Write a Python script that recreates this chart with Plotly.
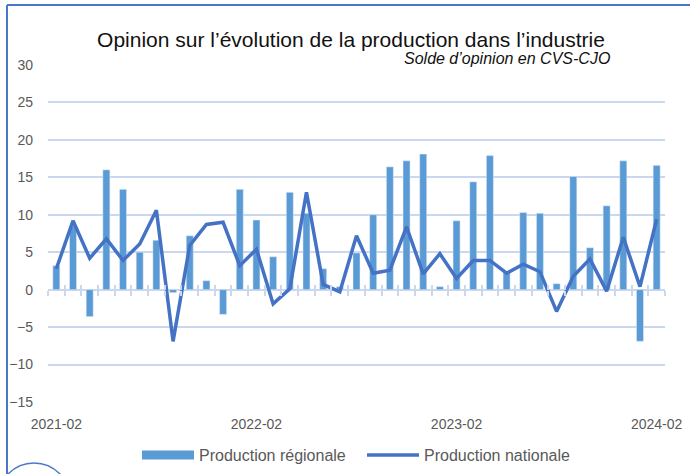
import plotly.graph_objects as go

months = [f"{2021 + (1 + i) // 12}-{(1 + i) % 12 + 1:02d}" for i in range(37)]
regional = [3.2, 8.5, -3.6, 16.0, 13.4, 5.0, 6.6, -0.4, 7.2, 1.2, -3.3, 13.4, 9.3,
            4.4, 13.0, 10.2, 2.8, 0.4, 4.9, 10.0, 16.4, 17.2, 18.1, 0.4, 9.2,
            14.4, 17.9, 2.4, 10.3, 10.2, 0.8, 15.1, 5.6, 11.2, 17.2, -6.9, 16.6]
national = [2.8, 9.2, 4.2, 6.8, 3.9, 6.1, 10.6, -6.9, 5.9, 8.7, 9.0, 3.2, 5.4,
            -1.9, 0.1, 13.0, 0.7, -0.3, 7.2, 2.2, 2.6, 8.4, 2.1, 4.8, 1.5,
            3.9, 3.9, 2.2, 3.4, 2.4, -2.9, 1.8, 4.1, -0.2, 7.0, 0.4, 9.4]
tick_labels = ["2021-02", "2022-02", "2023-02", "2024-02"]
tick_pos = [0, 12, 24, 36]

W, H = 690, 474
L, R, T, B = 48, 25, 65, 72
PW, PH = W - L - R, H - T - B

def px(x):
    return (x - L) / PW

def py(y):
    return (H - B - y) / PH

BAR_C = "#5b9bd5"
LINE_C = "#4472c4"
GRID_C = "#c9d7ef"
TXT_C = "#595959"

xs = list(range(len(months)))

fig = go.Figure()
fig.add_trace(go.Bar(x=xs, y=regional, marker_color=BAR_C, width=0.42,
                     name="Production régionale", showlegend=False, hovertext=months))
fig.add_trace(go.Scatter(x=xs, y=national, mode="lines", line=dict(color=LINE_C, width=3.5),
                         name="Production nationale", showlegend=False, hovertext=months))
# legend proxies
fig.add_trace(go.Scatter(x=[None], y=[None], mode="lines", line=dict(color=BAR_C, width=9),
                         name="Production régionale"))
fig.add_trace(go.Scatter(x=[None], y=[None], mode="lines", line=dict(color=LINE_C, width=3.5),
                         name="Production nationale"))
# carriers for the zero-line tick axes
fig.add_trace(go.Scatter(x=[None], y=[None], xaxis="x2", showlegend=False, hoverinfo="skip"))
fig.add_trace(go.Scatter(x=[None], y=[None], xaxis="x3", showlegend=False, hoverinfo="skip"))

bounds = [i - 0.5 for i in range(len(months) + 1)]
zero_pos = (0 - (-15)) / 45

fig.update_layout(
    width=W, height=H,
    margin=dict(l=L, r=R, t=T, b=B, autoexpand=False),
    paper_bgcolor="white", plot_bgcolor="white",
    font=dict(family="Liberation Sans, Arial, sans-serif", color=TXT_C, size=14),
    title=dict(text="Opinion sur l’évolution de la production dans l’industrie",
               x=351 / W, xanchor="center", y=1 - 40 / H, yanchor="middle",
               font=dict(size=21, color="#111111")),
    xaxis=dict(range=[-0.5, 36.5], tickvals=tick_pos, ticktext=tick_labels, automargin=False,
               showgrid=False, zeroline=False, showline=False, ticks="",
               ticklabelstandoff=12, tickfont=dict(size=14, color=TXT_C)),
    xaxis2=dict(overlaying="x", anchor="free", position=zero_pos, range=[-0.5, 36.5],
                tickvals=bounds, ticks="outside", ticklen=5, tickwidth=1.5, tickcolor=GRID_C,
                showticklabels=False, showgrid=False, zeroline=False, showline=False),
    xaxis3=dict(overlaying="x", anchor="free", position=zero_pos, range=[-0.5, 36.5],
                tickvals=bounds, ticks="inside", ticklen=5, tickwidth=1.5, tickcolor=GRID_C,
                showticklabels=False, showgrid=False, zeroline=False, showline=False),
    yaxis=dict(range=[-15, 30], dtick=5, showgrid=True, gridcolor=GRID_C, gridwidth=1.5,
               zeroline=True, zerolinecolor=GRID_C, zerolinewidth=1.5, showline=False,
               automargin=False, ticks="", ticklabelstandoff=14,
               tickfont=dict(size=14, color=TXT_C)),
    bargap=0.58,
    legend=dict(orientation="h", x=px(137), xanchor="left", y=py(455), yanchor="middle",
                font=dict(size=16, color=TXT_C), itemwidth=52, entrywidth=158,
                bgcolor="rgba(0,0,0,0)"),
    annotations=[dict(text="<i>Solde d’opinion en CVS-CJO</i>", xref="paper", yref="paper",
                      x=px(612), xanchor="right", y=py(58), yanchor="middle", showarrow=False,
                      font=dict(size=16, color="#111111"))],
    shapes=[
        dict(type="line", xref="paper", yref="paper", x0=px(7), x1=px(W), y0=py(5), y1=py(5),
             line=dict(color="#4a78c8", width=2)),
        dict(type="line", xref="paper", yref="paper", x0=px(7), x1=px(7), y0=py(5), y1=py(H),
             line=dict(color="#4a78c8", width=2)),
        dict(type="circle", xref="paper", yref="paper", x0=px(-2), x1=px(70), y0=py(535), y1=py(463),
             line=dict(color="#4a78c8", width=1.5)),
    ],
)

fig.write_html("out.html", config={"displayModeBar": False},
               post_script="document.body.style.margin='0px';")
